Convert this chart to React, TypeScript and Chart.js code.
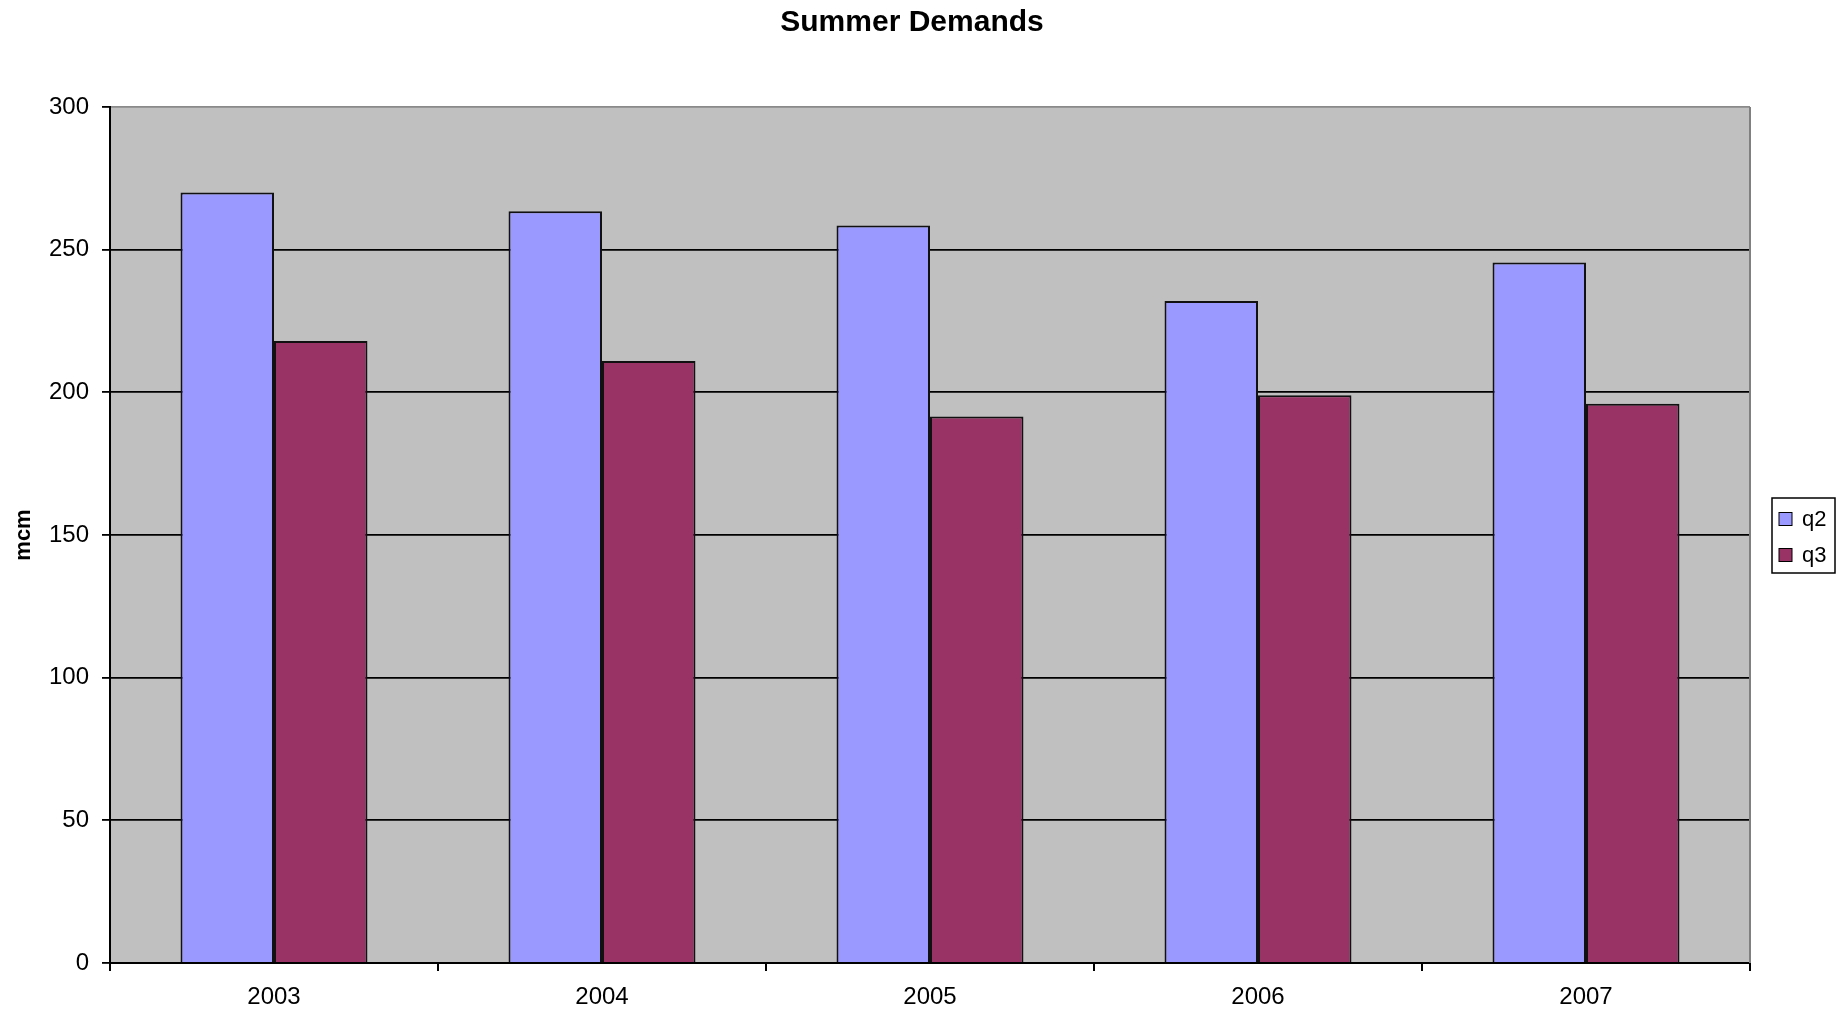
import React, { useEffect, useRef } from "react";
import { Chart, registerables } from "chart.js";

Chart.register(...registerables);

const categories = ["2003", "2004", "2005", "2006", "2007"];
const q2Values = [270, 263.5, 258.5, 232, 245.5];
const q3Values = [218, 211, 191.5, 199, 196];
const seriesNames = ["q2", "q3"];
const seriesColors = ["#9999FF", "#993366"];
const chartTitle = "Summer Demands";
const yAxisTitle = "mcm";

const FONT = "'Liberation Sans', Arial, sans-serif";

const plotBgPlugin = {
  id: "plotBg",
  beforeDraw(chart: any) {
    const { ctx, chartArea } = chart;
    ctx.save();
    ctx.fillStyle = "#C0C0C0";
    ctx.fillRect(chartArea.left, chartArea.top, chartArea.right - chartArea.left, chartArea.bottom - chartArea.top);
    ctx.restore();
  },
  afterDatasetsDraw(chart: any) {
    const { ctx, chartArea } = chart;
    ctx.save();
    ctx.strokeStyle = "#808080";
    ctx.lineWidth = 2;
    ctx.beginPath();
    ctx.moveTo(chartArea.right, chartArea.top);
    ctx.lineTo(chartArea.right, chartArea.bottom);
    ctx.stroke();
    ctx.restore();
  },
};

const titlePlugin = {
  id: "customTitle",
  afterDraw(chart: any) {
    const { ctx } = chart;
    ctx.save();
    ctx.fillStyle = "#000";
    ctx.font = `bold 30px ${FONT}`;
    ctx.textAlign = "center";
    ctx.textBaseline = "middle";
    ctx.fillText(chartTitle, 912, 23);
    ctx.restore();
  },
};

const legendBoxPlugin = {
  id: "legendBox",
  afterDraw(chart: any) {
    const { ctx } = chart;
    const x0 = 1772, y0 = 498, w = 63, h = 75;
    ctx.save();
    ctx.fillStyle = "#FFFFFF";
    ctx.fillRect(x0, y0, w, h);
    ctx.strokeStyle = "#000";
    ctx.lineWidth = 1.5;
    ctx.strokeRect(x0, y0, w, h);
    const rows = [519, 555];
    chart.data.datasets.forEach((ds: any, i: number) => {
      const cy = rows[i];
      ctx.fillStyle = ds.backgroundColor;
      ctx.fillRect(1779, cy - 6.5, 13, 13);
      ctx.strokeStyle = "#000";
      ctx.lineWidth = 1;
      ctx.strokeRect(1779, cy - 6.5, 13, 13);
      ctx.fillStyle = "#000";
      ctx.font = `22px ${FONT}`;
      ctx.textBaseline = "middle";
      ctx.textAlign = "left";
      ctx.fillText(ds.label, 1802, cy + 1);
    });
    ctx.restore();
  },
};

export default function App() {
  const ref = useRef<HTMLCanvasElement>(null);
  useEffect(() => {
    if (!ref.current) return;
    const chart = new Chart(ref.current, {
      type: "bar",
      data: {
        labels: categories,
        datasets: [
          {
            label: seriesNames[0],
            data: q2Values,
            backgroundColor: seriesColors[0],
            borderColor: "#111",
            borderWidth: 2,
          },
          {
            label: seriesNames[1],
            data: q3Values,
            backgroundColor: seriesColors[1],
            borderColor: "#111",
            borderWidth: 2,
          },
        ],
      },
      options: {
        responsive: false,
        animation: false,
        layout: { padding: { left: 0, right: 88, top: 107, bottom: 0 } },
        datasets: { bar: { categoryPercentage: 0.57, barPercentage: 1.0 } },
        plugins: {
          legend: { display: false },
          tooltip: { enabled: false },
          title: { display: false },
        },
        scales: {
          x: {
            afterFit: (s: any) => {
              s.height = 47;
            },
            grid: {
              display: true,
              drawOnChartArea: false,
              drawTicks: true,
              tickLength: 8,
              offset: true,
              color: "#000",
              tickColor: "#000",
              lineWidth: 2,
            },
            border: { display: true, color: "#000", width: 2 },
            ticks: {
              color: "#000",
              font: { family: FONT, size: 24 },
              padding: 11.5,
              maxRotation: 0,
            },
          },
          y: {
            min: 0,
            max: 300,
            afterFit: (s: any) => {
              s.width = 110;
            },
            grid: {
              color: (c: any) => (c.tick && c.tick.value === 300 ? "#8a8a8a" : "#000"),
              tickColor: "#000",
              lineWidth: 1.8,
              tickLength: 8,
            },
            border: { display: true, color: "#000", width: 2 },
            ticks: {
              stepSize: 50,
              color: "#000",
              font: { family: FONT, size: 24 },
              padding: 13,
            },
            title: {
              display: true,
              text: yAxisTitle,
              color: "#000",
              font: { family: FONT, size: 22, weight: "bold" },
              padding: { top: 11, bottom: 0 },
            },
          },
        },
      },
      plugins: [plotBgPlugin, titlePlugin, legendBoxPlugin],
    });
    return () => chart.destroy();
  }, []);
  return (
    <div style={{ position: "fixed", left: 0, top: 0, width: 1838, height: 1010, background: "#fff" }}>
      <canvas ref={ref} width={1838} height={1010} style={{ display: "block" }} />
    </div>
  );
}
